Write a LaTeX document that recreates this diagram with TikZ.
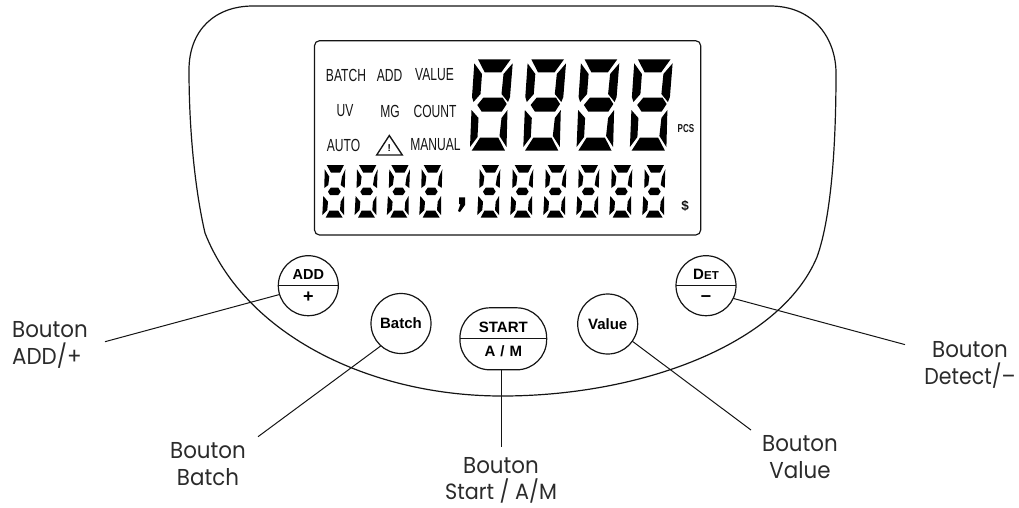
\documentclass[tikz,border=0pt]{standalone}
\usepackage{fontspec}
\setmainfont{Liberation Sans}
\newfontfamily\labelfont{Poppins}
\definecolor{ink}{HTML}{141414}
\definecolor{labelink}{HTML}{2B2B2B}
\newcommand{\bigdigit}{%
  \fill (478,59.3)--(510.7,59.3)--(501.3,72.3)--(484.7,72.3)--cycle;
  \fill (474.3,63.3)--(482,74)--(480.5,94)--(473.5,102)--(472,97)--cycle;
  \fill (512.7,63.3)--(503.5,74)--(501.5,94)--(508,102)--(510,97)--cycle;
  \fill (483.3,97.7)--(502.7,97.7)--(506.7,104)--(501.7,111.7)--(481.7,111.7)--(477.3,105)--cycle;
  \fill (471.5,110)--(478.5,118)--(477.5,137)--(470,147)--cycle;
  \fill (507.5,110)--(501.5,118)--(499.5,136)--(506.5,147)--cycle;
  \fill (480,137.7)--(498.3,137.7)--(505,150.7)--(471.7,150.7)--cycle;
}
\newcommand{\smalldigit}{%
  \fill (326.7,165)--(344,165)--(340,172.7)--(331,172.7)--cycle;
  \fill (324.7,169.3)--(329.3,176.7)--(328.3,185)--(324.3,188)--cycle;
  \fill (345.3,169.3)--(342,176.7)--(340.7,185)--(344.7,188)--cycle;
  \fill (330.7,187.7)--(338.3,187.7)--(340.7,191.7)--(338.3,195)--(330,195)--(328,191.7)--cycle;
  \fill (323.3,196)--(328,201.7)--(327.3,210)--(322.3,215)--cycle;
  \fill (344,196)--(340.7,201.7)--(340,210)--(344,215)--cycle;
  \fill (329.3,210.7)--(338.3,210.7)--(342.7,217.7)--(325.7,217.7)--cycle;
}
\tikzset{
  outline/.style={draw=ink,line width=1.2pt},
  btn/.style={circle,draw=ink,line width=1.2pt,inner sep=0pt,outer sep=0pt,minimum size=60pt},
  conn/.style={draw=ink,line width=1pt},
  lcd/.style={font=\fontsize{17.5}{17.5}\selectfont,text=ink,xscale=.69,inner sep=0pt},
  btntext/.style={font=\fontsize{15}{15}\bfseries\selectfont,text=black,inner sep=0pt},
  calllabel/.style={font=\fontsize{23}{27}\labelfont\selectfont,text=labelink,align=center,inner sep=0pt,xscale=.93},
}
\begin{document}
\begin{tikzpicture}[x=1pt,y=-1pt]
\useasboundingbox (0,0) rectangle (1019,507);
% panel outline
\draw[outline] (253,6) -- (770,6)
  .. controls (815,6) and (836,40) .. (836,73)
  .. controls (836,140) and (832,215) .. (817,257)
  .. controls (780,345) and (640,396) .. (502,396)
  .. controls (370,396) and (245,335) .. (205,233)
  .. controls (195,190) and (189,130) .. (189,70)
  .. controls (189,30) and (215,6) .. (253,6) -- cycle;
% LCD
\draw[draw=ink,line width=1.15pt,rounded corners=5pt] (314.5,40.7) rectangle (700.7,235);
\begin{scope}[black]
  \foreach \s in {0,53.3,106.6,159.9} { \begin{scope}[shift={(\s,0)}]\bigdigit\end{scope} }
  \foreach \s in {0,32.3,64.6,97,155,188,221,254,287,320} { \begin{scope}[shift={(\s,0)}]\smalldigit\end{scope} }
  \fill (459,197.3)--(465,197.3)--(465,205)--(460,212)--(458,211)--(460.5,204)--(459,204)--cycle;
\end{scope}
\draw[draw=ink,line width=1.35pt,line join=miter] (389.3,135.5)--(402.3,155)--(376.7,155)--cycle;
\node[font=\fontsize{10}{10}\bfseries\selectfont,inner sep=0pt] (warn) at (389.3,148) {!};
\node[lcd] (tBatch) at (346,75) {BATCH};
\node[lcd] (tAdd) at (389.5,75) {ADD};
\node[lcd] (tValue) at (434.5,75) {VALUE};
\node[lcd] (tUV) at (345,111) {UV};
\node[lcd] (tMG) at (390,111) {MG};
\node[lcd] (tCount) at (435,111) {COUNT};
\node[lcd] (tAuto) at (343.5,145) {AUTO};
\node[lcd] (tManual) at (435.5,145) {MANUAL};
\node[font=\fontsize{11.5}{11.5}\bfseries\selectfont,text=ink,xscale=.7,inner sep=0pt] (tPcs) at (686,129) {PCS};
\node[font=\fontsize{13.5}{13.5}\bfseries\selectfont,text=ink,inner sep=0pt] (tDollar) at (685,205.7) {\$};
% buttons
\node[btn] (add) at (308.3,285.7) {};
\node[btn] (batch) at (401,323.5) {};
\node[btn] (value) at (607.7,324) {};
\node[btn] (det) at (706,285.7) {};
\node[draw=ink,line width=1.2pt,rounded corners=30pt,minimum width=86.7pt,minimum height=62pt,inner sep=0pt,outer sep=0pt] (startb) at (503.3,338.8) {};
\draw[outline] (add.west) -- (add.east);
\draw[outline] (det.west) -- (det.east);
\draw[outline] (startb.west) -- (startb.east);
\node[btntext,font=\fontsize{14.5}{14.5}\bfseries\selectfont] (tAddB) at (308.3,274.5) {ADD};
\node[btntext,font=\fontsize{18}{18}\bfseries\selectfont] (tPlus) at (308.3,297) {+};
\node[btntext] (tBatchB) at (401,323.5) {Batch};
\node[btntext] (tValueB) at (607.7,324.5) {Value};
\node[btntext] (tStart) at (503.3,327.7) {START};
\node[btntext] (tAM) at (503.3,351.7) {A\,\,/\,\,M};
\node[btntext] (tDet) at (706,274.5) {D{\fontsize{11.5}{11.5}\selectfont ET}};
\node[btntext,font=\fontsize{18.5}{18.5}\bfseries\selectfont] (tMinus) at (706,298.5) {–};
% connector ends
\coordinate (eAdd) at (105,341.7);
\coordinate (eBatch) at (258,436.7);
\coordinate (eStart) at (501.7,446.7);
\coordinate (eValue) at (751,430);
\coordinate (eDet) at (905,344.6);
\draw[conn] (eAdd) -- (add.197.6);
\draw[conn] (eBatch) -- (batch.228.5);
\draw[conn] (eStart) -- (startb.south -| eStart);
\draw[conn] (eValue) -- (value.-35.3);
\draw[conn] (eDet) -- (det.-25.9);
% labels
\node[calllabel,align=left,anchor=west] (lAdd) at (12,344.5) {Bouton\\ADD/+};
\node[calllabel] (lBatch) at (208,464) {Bouton\\Batch};
\node[calllabel,font=\fontsize{23}{26}\labelfont\selectfont] (lStart) at (501,480.5) {Bouton\\\scalebox{.97}[.96]{Start / A/M}};
\node[calllabel] (lValue) at (800,457) {Bouton\\Value};
\node[calllabel] (lDet) at (970,365) {Bouton\\\scalebox{.96}[1]{Detect/–}};
\end{tikzpicture}
\end{document}
